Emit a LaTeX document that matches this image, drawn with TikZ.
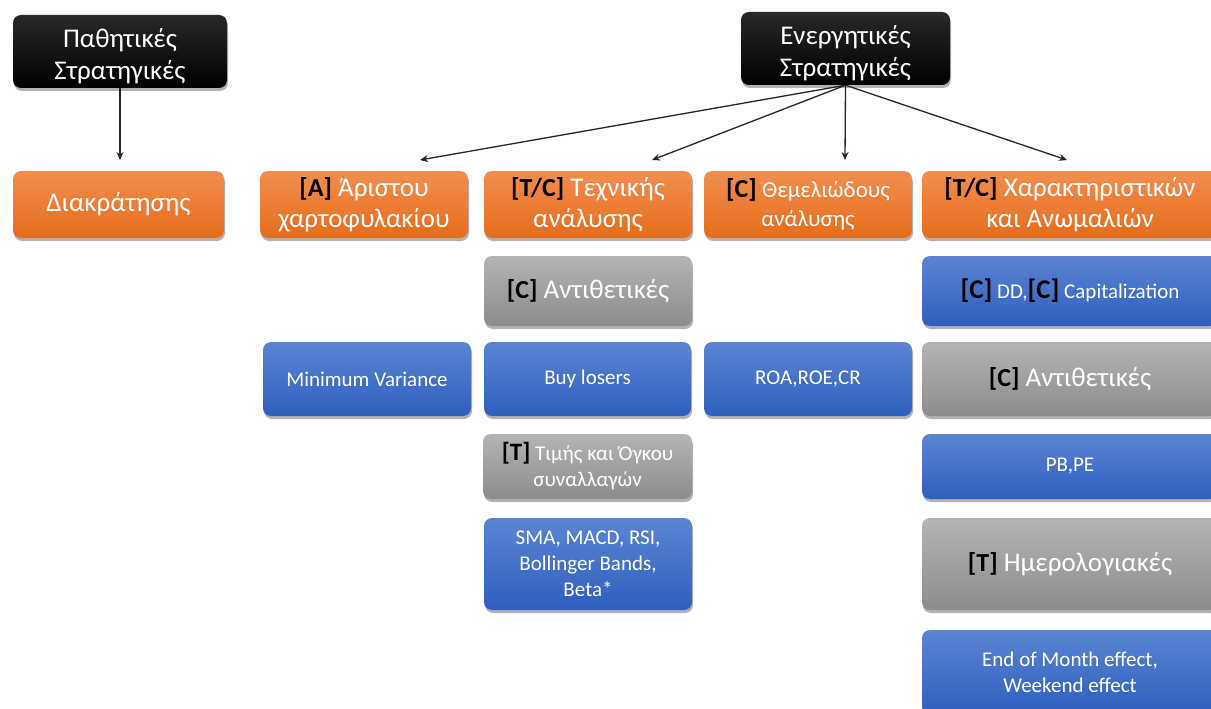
\documentclass[tikz,border=0pt]{standalone}
\usepackage{fontspec}
\setmainfont{Carlito}
\usetikzlibrary{arrows.meta,shadows,calc}

\definecolor{orTop}{RGB}{242,142,80}
\definecolor{orBot}{RGB}{228,108,26}
\definecolor{blTop}{RGB}{92,132,210}
\definecolor{blBot}{RGB}{46,94,190}
\definecolor{grTop}{RGB}{180,180,180}
\definecolor{grBot}{RGB}{140,140,140}
\definecolor{bkTop}{RGB}{40,40,40}
\definecolor{bkBot}{RGB}{0,0,0}

% bold black tag such as [C] at its own size
\newcommand{\tg}[2]{{\fontsize{#2}{#2}\selectfont\bfseries\color{black}#1}}
\newcommand{\fs}[2]{\fontsize{#1}{#2}\selectfont}
% taller first line, lowers the text block a little
\newcommand{\tall}{\rule{0pt}{28pt}}

\tikzset{
  box/.style={rounded corners=8pt, text=white, align=center, inner sep=2pt,
    drop shadow={shadow xshift=1pt, shadow yshift=-3pt, opacity=0.3, fill=black}},
  sz/.style 2 args={minimum width=#1pt, minimum height=#2pt},
  blackbox/.style={box, top color=bkTop, bottom color=bkBot, font=\fs{27}{32}},
  orangebox/.style={box, top color=orTop, bottom color=orBot, font=\fs{27}{31}},
  bluebox/.style={box, top color=blTop, bottom color=blBot, font=\fs{21}{26}},
  greybox/.style={box, top color=grTop, bottom color=grBot, font=\fs{27}{31}},
  link/.style={draw=black!85, line width=1.3pt, -{Stealth[length=8pt,width=7pt]}},
}

\begin{document}
\begin{tikzpicture}[x=1pt,y=-1pt]
\useasboundingbox (0,0) rectangle (1211,709);
\fill[white] (0,0) rectangle (1211,709);
\begin{scope}
\clip (0,0) rectangle (1211,709);

% top level
\node[blackbox, sz={214}{73}] (pas) at (120,51.5) {\tall Παθητικές\\Στρατηγικές};
\node[blackbox, sz={209}{73}] (ene) at (845.5,48.5) {\tall Ενεργητικές\\Στρατηγικές};

% second level
\node[orangebox, sz={211}{67}] (hold) at (118.5,204.5) {Διακράτησης};
\node[orangebox, sz={208}{67}] (opt) at (364,204.5) {\tg{[A]}{26} Άριστου\\χαρτοφυλακίου};
\node[orangebox, sz={208}{67}] (tech) at (588,204.5) {\tg{[T/C]}{26} Τεχνικής\\ανάλυσης};
\node[orangebox, sz={208}{67}, font=\fs{23}{29}] (fund) at (808,204.5) {\tg{[C]}{26} Θεμελιώδους\\ανάλυσης};
\node[orangebox, sz={296}{67}] (anom) at (1070,204.5) {\tg{[T/C]}{26} Χαρακτηριστικών\\και Ανωμαλιών};

% technical analysis column
\node[greybox, sz={208}{70}] (anti1) at (588,291) {\tg{[C]}{26} Αντιθετικές};
\node[bluebox, sz={207}{74}] (buy) at (587.5,379) {Buy losers};
\node[greybox, sz={209}{65}, font=\fs{21}{26}] (price) at (587.5,466.5) {\tg{[T]}{25} Τιμής και Όγκου\\συναλλαγών};
\node[bluebox, sz={208}{92}] (sma) at (588,564) {SMA, MACD, RSI,\\Bollinger Bands,\\Beta*};

% optimal portfolio and fundamentals
\node[bluebox, sz={208}{74}] (minvar) at (367,379) {Minimum Variance};
\node[bluebox, sz={208}{74}] (roa) at (808,379) {ROA,ROE,CR};

% characteristics and anomalies column
\node[bluebox, sz={296}{70}] (dd) at (1070,291) {\tg{[C]}{27} DD,\tg{[C]}{27} Capitalization};
\node[greybox, sz={296}{74}] (anti2) at (1070,379) {\tg{[C]}{26} Αντιθετικές};
\node[bluebox, sz={296}{65}] (pbpe) at (1070,466.5) {PB,PE};
\node[greybox, sz={296}{92}] (cal) at (1070,564) {\tg{[T]}{26} Ημερολογιακές};
\node[bluebox, sz={296}{84}] (eom) at (1070,672) {End of Month effect,\\Weekend effect};

% arrow targets above the second level
\coordinate (tHold) at (120,160);
\coordinate (tOpt) at (420,160);
\coordinate (tTech) at (652,160);
\coordinate (tFund) at (845,160);
\coordinate (tAnom) at (1067,160);

\draw[link] (pas.south) -- (tHold);
\draw[link] (ene.south) -- (tOpt);
\draw[link] (ene.south) -- (tTech);
\draw[link] (ene.south) -- (tFund);
\draw[link] (ene.south) -- (tAnom);
\end{scope}
\end{tikzpicture}
\end{document}
